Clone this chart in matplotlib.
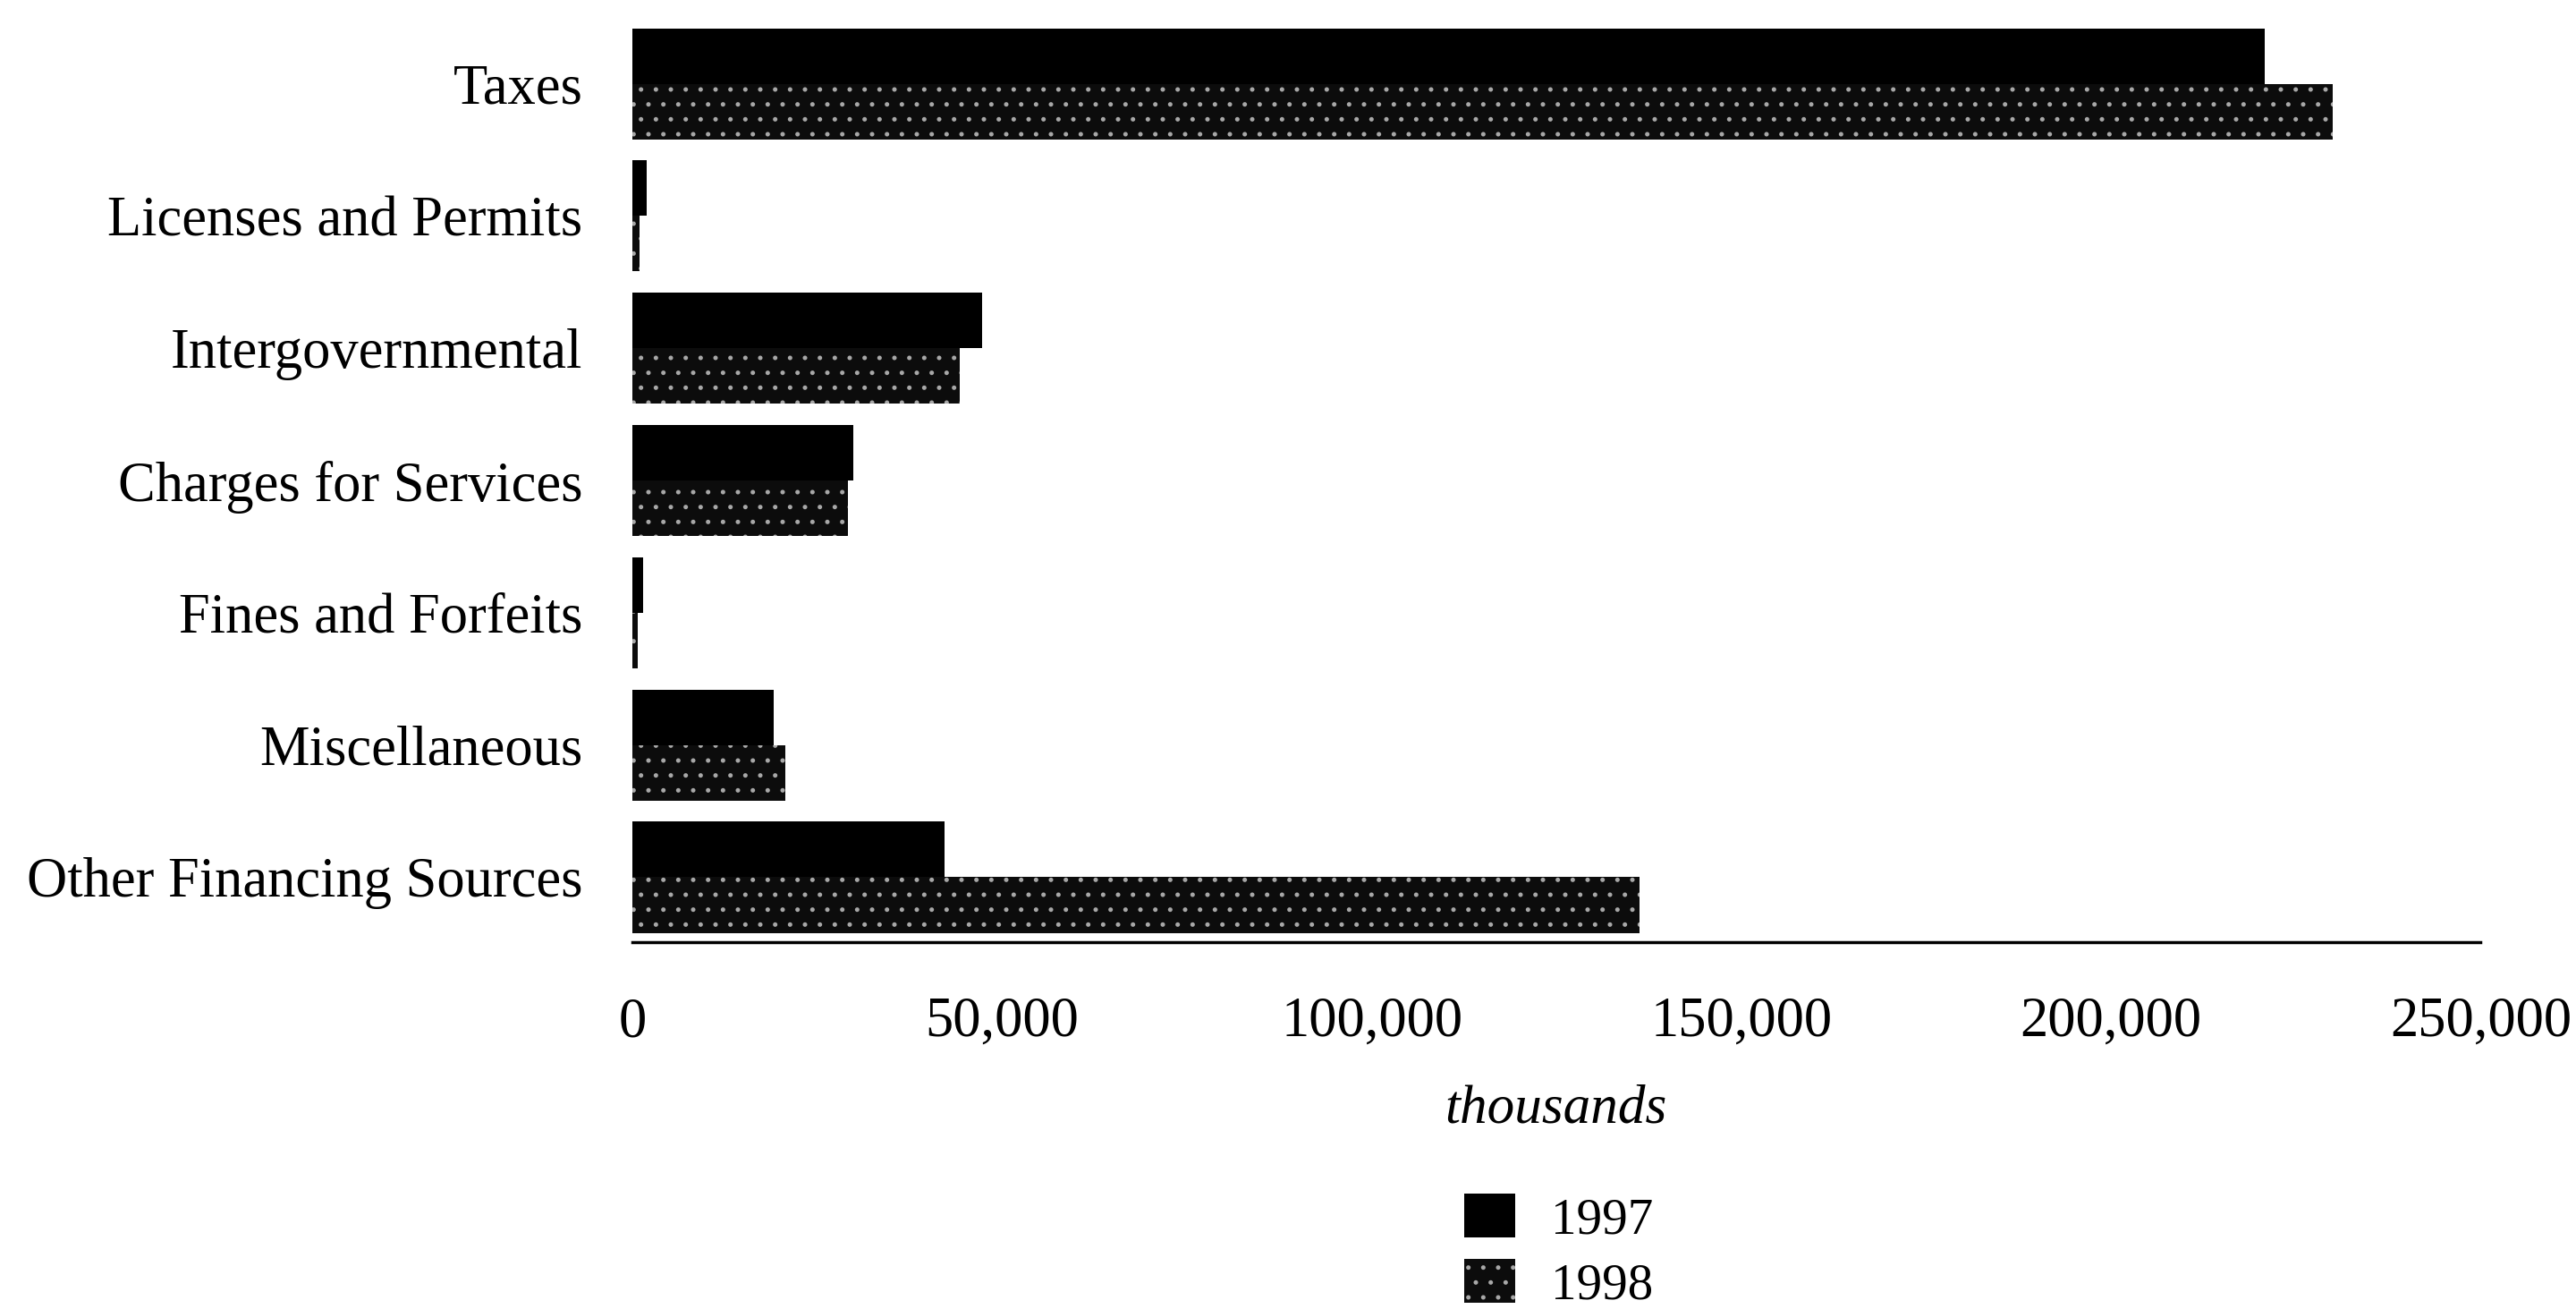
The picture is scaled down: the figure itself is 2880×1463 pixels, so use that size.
import matplotlib
matplotlib.use("Agg")
import matplotlib.pyplot as plt
import numpy as np
from matplotlib.ticker import FuncFormatter

plt.rcParams['font.family'] = ['Liberation Serif', 'DejaVu Serif']
plt.rcParams['hatch.linewidth'] = 1.2

# General fund revenue sources, in thousands of dollars
categories = ["Taxes", "Licenses and Permits", "Intergovernmental",
              "Charges for Services", "Fines and Forfeits", "Miscellaneous",
              "Other Financing Sources"]
rev_1997 = [220800, 1900, 47300, 29900, 1500, 19100, 42200]
rev_1998 = [230000, 1000, 44300, 29200, 700, 20700, 136200]
series_labels = ["1997", "1998"]
xticks = [0, 50000, 100000, 150000, 200000, 250000]

fig = plt.figure(figsize=(28.8, 14.63), dpi=100)
ax = fig.add_axes([0.2455, 0.2803, 0.963 - 0.2455, 0.9815 - 0.2803])

y = np.arange(len(categories))[::-1]
bh = 0.42
b97 = ax.barh(y + bh / 2, rev_1997, height=bh, color="black",
              label=series_labels[0])
b98 = ax.barh(y - bh / 2, rev_1998, height=bh, facecolor="#0c0c0c",
              edgecolor="#a8a8a8", hatch=".", linewidth=0,
              label=series_labels[1])

ax.set_xlim(0, 250000)
ax.set_ylim(-0.49, 6.45)
ax.set_xticks(xticks)
ax.xaxis.set_major_formatter(FuncFormatter(lambda v, p: f"{int(v):,}"))
ax.set_yticks(y)
ax.set_yticklabels(categories)

for s in ("top", "right", "left"):
    ax.spines[s].set_visible(False)
ax.spines["bottom"].set_linewidth(2.5)
ax.tick_params(axis="x", length=0, pad=44, labelsize=45)
ax.tick_params(axis="y", length=0, pad=40, labelsize=45)

fig.text(0.604, 1 - 1240 / 1463, "thousands", style="italic",
         fontsize=44, ha="center", va="center")

fig.legend(handles=[b97, b98], labels=series_labels, loc="upper left",
           bbox_to_anchor=(1637 / 2880, 1 - 1334 / 1463), frameon=False,
           fontsize=41, handlelength=1.0, handleheight=0.95,
           handletextpad=0.7, labelspacing=0.3, borderpad=0,
           borderaxespad=0)

fig.savefig("out.png", dpi=100, facecolor="white")
